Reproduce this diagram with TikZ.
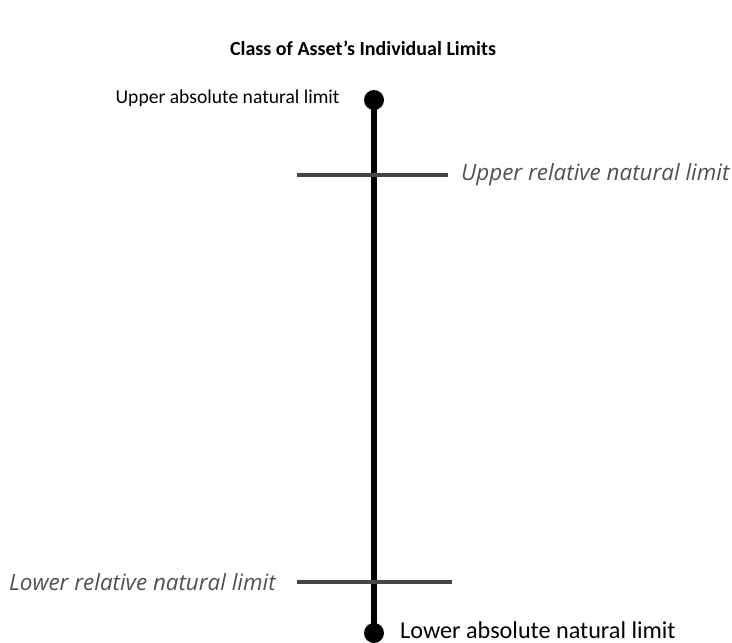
\documentclass[tikz,border=0pt]{standalone}
\usepackage{fontspec}
\setmainfont{Carlito}
\newfontfamily\relfont{Open Sans}
\usetikzlibrary{positioning}
\definecolor{tickgray}{HTML}{454545}
\definecolor{labelgray}{HTML}{505050}

\begin{document}
\begin{tikzpicture}[x=1pt, y=-1pt,
	font=\fontsize{19.6}{22}\selectfont,
	limitdot/.style = {circle, fill=black, inner sep=0pt, minimum size=20pt},
	axisline/.style = {line width=6pt, black},
	tickline/.style = {line width=3.5pt, tickgray},
	abslabel/.style = {inner sep=0pt, text=black},
	rellabel/.style = {inner sep=0pt, text=labelgray, font=\relfont\fontsize{22.4}{25}\selectfont\itshape}]
	\useasboundingbox (0, 0) rectangle (732, 643);
	\pgfmathsetmacro{\axisx}{374}
	\node [font=\fontsize{20}{23}\selectfont\bfseries] (title) at (363, 48) {Class of Asset’s Individual Limits};
	\node [limitdot] (top) at (\axisx, 100) {};
	\node [limitdot] (bottom) at (\axisx, 633) {};
	\draw [axisline] (top.center) -- (bottom.center);
	\coordinate (upL) at (297, 175);
	\coordinate (upR) at (448, 175);
	\coordinate (loL) at (297, 582);
	\coordinate (loR) at (452, 582);
	\draw [tickline] (upL) -- (upR);
	\draw [tickline] (loL) -- (loR);
	\node [abslabel, left = 24pt of top, yshift=1.5pt] (upabs) {Upper absolute natural limit};
	\node [rellabel, right = 13pt of upR] (uprel) {Upper relative natural limit};
	\node [rellabel, left = 21pt of loL] (lorel) {Lower relative natural limit};
	% bottom label sits on the lower edge, as in the original
	\node [abslabel, anchor=base west, font=\fontsize{24.2}{27}\selectfont] (loabs) at (400, 638.5) {Lower absolute natural limit};
\end{tikzpicture}
\end{document}
